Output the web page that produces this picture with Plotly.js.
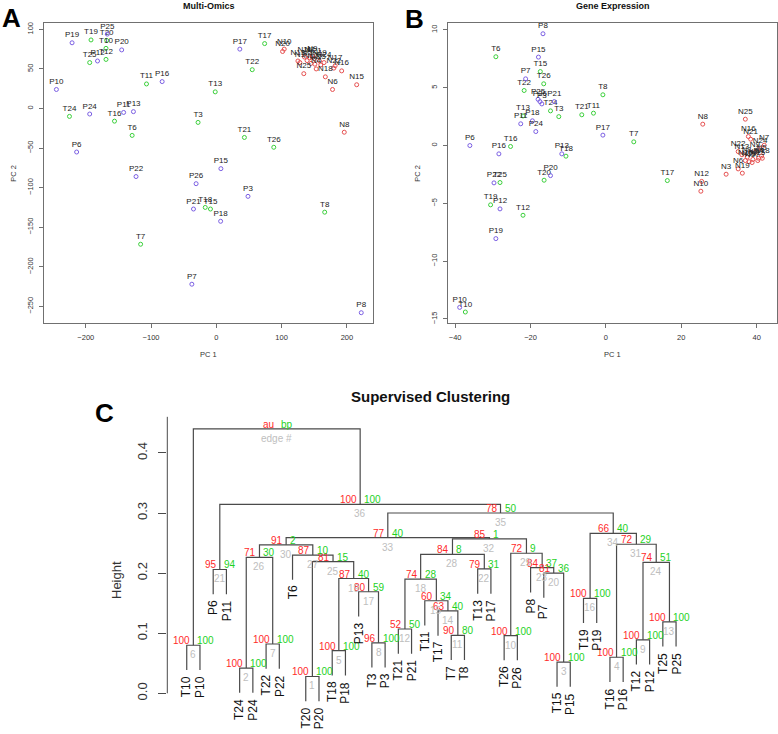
<!DOCTYPE html>
<html>
<head>
<meta charset="utf-8">
<script src="https://cdn.plot.ly/plotly-3.0.1.min.js"></script>
<style>
  html, body { margin: 0; padding: 0; background: #fff; }
  #fig { width: 778px; height: 734px; }
</style>
</head>
<body>
<div id="fig"></div>
<script>
const W = 778, H = 734;
const FONT = 'Liberation Sans, Arial, Helvetica, sans-serif';
const COLORS = {
    P: '#7B5FE3',      // purple samples
    T: '#3BD03B',      // green samples
    N: '#E65050',      // red samples
    text: '#222',
    axis: '#707070',
    tree: '#4a4a4a',
    au: '#FF2A2A',
    bp: '#1ED21E',
    edge: '#BEBEBE'
};

// ---- Panel A: Multi-Omics PCA ----
const omicsP_lab = ['P19','P25','P12','P20','P10','P16','P24','P11','P13','P6','P17','P22','P15','P26','P3','P21','P18','P7','P8'];
const omicsP_pc1 = [-221,-167,-182,-145,-245,-83,-194,-142,-127,-214,36,-123,7,-31,48.5,-35,6.6,-37.5,222];
const omicsP_pc2 = [83,94,60,74,24,34,-7,-5,-4,-55,75,-86,-76,-95,-111,-127,-142.5,-222,-258];

const omicsT_lab = ['T19','T20','T10','T25','T12','T11','T24','T16','T6','T13','T3','T22','T21','T17','T26','T18','T15','T8','T7'];
const omicsT_pc1 = [-192,-168,-169,-194,-169,-107,-225,-156,-129,-1.7,-28,55,43,74,88,-17,-9,166,-116];
const omicsT_pc2 = [86.6,86,76,58,62,31,-10,-16,-34,21,-17.6,49,-36.6,82,-49,-125,-127,-131,-171.5];

const omicsN_lab = ['N10','N20','N1','N13','N11','N2','N7','N9','N12','N21','N3','N4','N19','N5','N24','N22','N17','N16','N18','N25','N6','N15','N8'];
const omicsN_pc1 = [104,101.5,128,125,135,139,143,147,145,150,151,153,158,160,165,180,182,192,167,134,178,215,196];
const omicsN_pc2 = [75,72,58,60,65,60.5,64,66,57,63,56,50,60,55,58,51,54,47.5,40,44,24,30,-30];

// ---- Panel B: Gene Expression PCA ----
const geneP_lab = ['P8','P15','P7','P25','P26','P3','P21','P18','P11','P24','P6','P16','P13','P17','P22','P20','P12','P19','P10'];
const geneP_pc1 = [-16.7,-17.9,-21.3,-18,-17.5,-17,-13.7,-19.5,-22.6,-18.6,-36.1,-28.4,-11.7,-0.8,-29.7,-14.7,-28.1,-29.2,-38.8];
const geneP_pc2 = [9.67,7.65,5.77,4.0,3.8,3.6,3.8,2.14,1.88,1.21,0,-0.72,-0.72,0.9,-3.23,-2.6,-5.48,-8.05,-14.0];

const geneT_lab = ['T6','T15','T26','T22','T24','T3','T13','T16','T18','T8','T21','T11','T7','T25','T20','T19','T12','T17','T10'];
const geneT_pc1 = [-29.2,-17.4,-16.5,-21.7,-14.7,-12.5,-22,-25.3,-10.6,-0.8,-6.4,-3.3,7.4,-28.1,-16.4,-30.6,-22,16.3,-37.3];
const geneT_pc2 = [7.68,6.4,5.34,4.76,3.0,2.5,2.56,-0.08,-0.92,4.39,2.66,2.8,0.32,-3.2,-3.0,-5.13,-6.03,-3.03,-14.4];

const geneN_lab = ['N8','N25','N16','N21','N7','N24','N22','N13','N1','N2','N4','N5','N9','N11','N15','N17','N18','N20','N6','N19','N3','N12','N10'];
const geneN_pc1 = [25.7,37,37.8,38.4,42,40.9,35.1,36.1,37.5,39,40.5,41.3,39.5,38,40.3,38.8,41.5,37,35.1,36.2,31.9,25.4,25.2];
const geneN_pc2 = [1.85,2.28,0.78,0.55,0.03,-0.23,-0.52,-0.8,-1.0,-1.2,-1.1,-0.9,-0.6,-1.4,-1.3,-1.47,-1.1,-1.3,-2.02,-2.39,-2.48,-3.1,-3.95];

// ---- Panel C: supervised clustering (pvclust style) ----
const leafLabels = ['T10','P10','P6','P11','T24','P24','T22','P22','T6','T20','P20','T18','P18','P13','T3','P3',
    'T21','P21','T11','T17','T7','T8','T13','P17','T26','P26','P8','P7','T15','P15','T19','P19','T16','P16','T12','P12','T25','P25'];
// children: leaf label (string) or earlier edge number
const mergeLeft = ['T20','T24','T15','T16','T18','T10','T22','T3','T12','T26','T7','T21','T25','T17','T11','T19','P13',12,5,'P7',
    'P6','T13','P8',9,1,2,'T6',18,10,26,4,28,30,16,33,21,6];
const mergeRight = ['P20','P24','P15','P16','P18','P10','P22','P3','P12','P26','T8','P21','P25',11,14,'P19',8,15,17,3,
    'P11','P17',20,13,19,7,25,22,23,27,24,29,32,31,34,35,36];
const mergeHeight = [0.028,0.042,0.052,0.060,0.071,0.080,0.082,0.084,0.089,0.096,0.0965,0.107,0.119,0.137,0.154,0.158,0.169,0.190,0.191,0.200,
    0.206,0.207,0.209,0.218,0.219,0.226,0.230,0.231,0.233,0.247,0.248,0.257,0.259,0.266,0.300,0.3145,0.440];
const auValues = [100,100,100,100,100,100,100,96,100,100,90,52,100,63,60,100,80,74,87,81,95,79,84,74,81,71,87,84,72,91,72,85,77,66,78,100];
const bpValues = [100,100,100,100,100,100,100,100,100,100,80,50,100,40,34,100,59,28,40,36,94,31,37,51,15,30,10,8,9,2,29,1,40,40,50,100];
const heightTicks = [0, 0.1, 0.2, 0.3, 0.4];

// pixel helpers for paper coordinates
const px = v => v / W;
const py = v => 1 - v / H;

function pcaTrace(labels, pc1, pc2, color, xa, ya) {
    return {
        x: pc1, y: pc2, text: labels,
        type: 'scatter', mode: 'markers+text',
        xaxis: xa, yaxis: ya,
        marker: { symbol: 'circle-open', size: 4, color: color, line: { width: 1, color: color } },
        textposition: 'top center',
        textfont: { size: 8, color: COLORS.text, family: FONT },
        hoverinfo: 'text'
    };
}

const traces = [
    pcaTrace(omicsN_lab, omicsN_pc1, omicsN_pc2, COLORS.N, 'x', 'y'),
    pcaTrace(omicsT_lab, omicsT_pc1, omicsT_pc2, COLORS.T, 'x', 'y'),
    pcaTrace(omicsP_lab, omicsP_pc1, omicsP_pc2, COLORS.P, 'x', 'y'),
    pcaTrace(geneN_lab, geneN_pc1, geneN_pc2, COLORS.N, 'x2', 'y2'),
    pcaTrace(geneT_lab, geneT_pc1, geneT_pc2, COLORS.T, 'x2', 'y2'),
    pcaTrace(geneP_lab, geneP_pc1, geneP_pc2, COLORS.P, 'x2', 'y2')
];

// dendrogram geometry
const hang = 0.1 * (Math.max(...mergeHeight) - Math.min(...mergeHeight));
const nodeX = {}, parentH = {};
const posOf = c => typeof c === 'string' ? leafLabels.indexOf(c) + 1 : nodeX[c];
const topOf = (c, h) => typeof c === 'string' ? h - hang : mergeHeight[c - 1];
const treeX = [], treeY = [];
mergeHeight.forEach((h, i) => {
    const a = mergeLeft[i], b = mergeRight[i];
    const xa = posOf(a), xb = posOf(b);
    nodeX[i + 1] = (xa + xb) / 2;
    treeX.push(xa, xa, xb, xb, null);
    treeY.push(topOf(a, h), h, h, topOf(b, h), null);
    [a, b].forEach(c => { if (typeof c === 'string') parentH[c] = h; });
});
traces.push({
    x: treeX, y: treeY, type: 'scatter', mode: 'lines',
    xaxis: 'x3', yaxis: 'y3',
    line: { color: COLORS.tree, width: 1.2 },
    hoverinfo: 'skip'
});

const annotations = [];
function label(text, x, y, opts) {
    annotations.push(Object.assign({
        text: text, x: px(x), y: py(y), xref: 'paper', yref: 'paper',
        showarrow: false, xanchor: 'center', yanchor: 'middle',
        font: { family: FONT, size: 8, color: COLORS.text }
    }, opts));
}
label('<b>A</b>', 11, 18, { font: { family: FONT, size: 26, color: '#000' } });
label('<b>B</b>', 414, 19, { font: { family: FONT, size: 26, color: '#000' } });
label('<b>C</b>', 104.5, 412.5, { font: { family: FONT, size: 26, color: '#000' } });
label('<b>Multi-Omics</b>', 208.5, 6, { font: { family: FONT, size: 9, color: '#111' } });
label('<b>Gene Expression</b>', 612.5, 6, { font: { family: FONT, size: 9, color: '#111' } });
label('PC 1', 208.5, 354, { font: { family: FONT, size: 7.5, color: '#333' } });
label('PC 1', 612.5, 354, { font: { family: FONT, size: 7.5, color: '#333' } });
label('PC 2', 12.7, 173, { textangle: -90, font: { family: FONT, size: 7.5, color: '#333' } });
label('PC 2', 416.7, 173, { textangle: -90, font: { family: FONT, size: 7.5, color: '#333' } });
label('<b>Supervised Clustering</b>', 430, 396, { font: { family: FONT, size: 15, color: '#111' } });
label('Height', 116, 580, { textangle: -90, font: { family: FONT, size: 13, color: '#333' } });

// au / bp / edge numbers at every node (root carries the key)
mergeHeight.forEach((h, i) => {
    const x = nodeX[i + 1];
    const isRoot = i === mergeHeight.length - 1;
    const base = { xref: 'x3', yref: 'y3', x: x, y: h, showarrow: false };
    annotations.push(Object.assign({}, base, {
        text: isRoot ? 'au' : String(auValues[i]), xanchor: 'right', yanchor: 'bottom', xshift: -1, yshift: -3,
        font: { family: FONT, size: 10, color: COLORS.au }
    }));
    annotations.push(Object.assign({}, base, {
        text: isRoot ? 'bp' : String(bpValues[i]), xanchor: 'left', yanchor: 'bottom', xshift: 2, yshift: -3,
        font: { family: FONT, size: 10, color: COLORS.bp }
    }));
    annotations.push(Object.assign({}, base, {
        text: isRoot ? 'edge #' : String(i + 1), xanchor: 'center', yanchor: 'top', yshift: -2,
        font: { family: FONT, size: 10, color: COLORS.edge }
    }));
});

// leaf labels
leafLabels.forEach((lab, i) => {
    annotations.push({
        text: lab, x: i + 1, y: parentH[lab] - hang, xref: 'x3', yref: 'y3',
        showarrow: false, textangle: -90, xanchor: 'center', yanchor: 'top', yshift: -4,
        font: { family: FONT, size: 12, color: '#111' }
    });
});

const pcaAxis = {
    showline: true, mirror: true, linecolor: COLORS.axis, linewidth: 1,
    ticks: 'outside', ticklen: 4, tickcolor: COLORS.axis, tickwidth: 1,
    showgrid: false, zeroline: false,
    tickfont: { family: FONT, size: 7.5, color: '#333' },
    ticklabelstandoff: 3
};

const layout = {
    width: W, height: H,
    margin: { t: 0, r: 0, b: 0, l: 0 },
    paper_bgcolor: '#fff', plot_bgcolor: '#fff',
    showlegend: false,
    font: { family: FONT },
    xaxis: Object.assign({}, pcaAxis, { domain: [px(44), px(373)], range: [-264, 240], anchor: 'y',
        tickvals: [-200, -100, 0, 100, 200] }),
    yaxis: Object.assign({}, pcaAxis, { domain: [py(323), py(23)], range: [-271, 108], anchor: 'x',
        tickvals: [-250, -200, -150, -100, -50, 0, 50, 100], tickangle: -90 }),
    xaxis2: Object.assign({}, pcaAxis, { domain: [px(448), px(777)], range: [-41.9, 45.4], anchor: 'y2',
        tickvals: [-40, -20, 0, 20, 40] }),
    yaxis2: Object.assign({}, pcaAxis, { domain: [py(323), py(23)], range: [-15.35, 10.6], anchor: 'x2',
        tickvals: [-15, -10, -5, 0, 5, 10], tickangle: -90 }),
    xaxis3: { domain: [px(167.3), px(695.5)], range: [-0.47, 39.47], anchor: 'y3', visible: false },
    yaxis3: {
        domain: [0, py(400)], range: [-0.0677, 0.488], anchor: 'x3',
        tickvals: heightTicks, ticktext: heightTicks.map(v => v.toFixed(1)),
        ticks: 'outside', ticklen: 8, tickcolor: COLORS.tree, tickwidth: 1,
        showline: false, showgrid: false, zeroline: false, tickangle: -90,
        tickfont: { family: FONT, size: 13, color: '#333' }, ticklabelstandoff: 6
    },
    shapes: [{
        type: 'line', xref: 'x3 domain', x0: 0, x1: 0, yref: 'y3', y0: 0, y1: 0.46,
        line: { color: COLORS.tree, width: 1 }
    }],
    annotations: annotations
};

Plotly.newPlot('fig', traces, layout, { staticPlot: true, displayModeBar: false });
</script>
</body>
</html>
